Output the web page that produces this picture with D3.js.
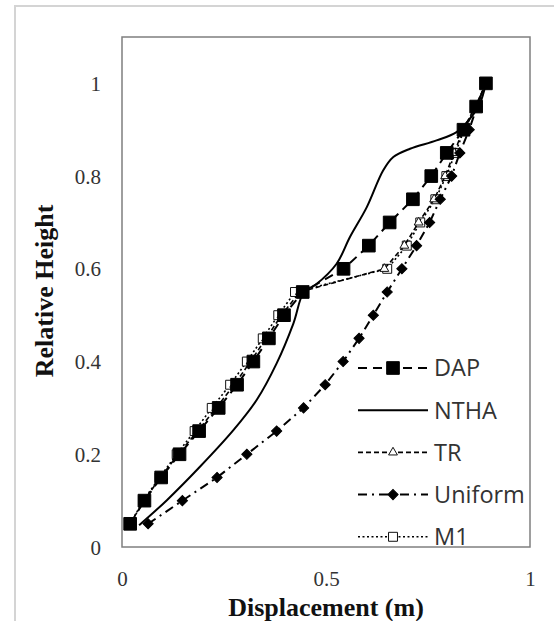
<!DOCTYPE html>
<html>
<head>
<meta charset="utf-8">
<script src="https://cdn.jsdelivr.net/npm/d3@7"></script>
<style>
  html, body { margin: 0; padding: 0; background: #fff; }
  svg { display: block; }
</style>
</head>
<body>
<div id="chart"></div>
<script>
// Relative height levels (shared by the marker series)
const heights = [0.05, 0.1, 0.15, 0.2, 0.25, 0.3, 0.35, 0.4, 0.45, 0.5,
                 0.55, 0.6, 0.65, 0.7, 0.75, 0.8, 0.85, 0.9, 0.95, 1.0];

// Displacement (m) per series
const dapDisp     = [0.020, 0.055, 0.096, 0.141, 0.189, 0.237, 0.282, 0.322, 0.360, 0.397,
                     0.443, 0.543, 0.605, 0.656, 0.713, 0.758, 0.796, 0.837, 0.868, 0.892];
const trDisp      = [0.020, 0.054, 0.094, 0.138, 0.185, 0.231, 0.275, 0.315, 0.353, 0.391,
                     0.436, 0.643, 0.692, 0.727, 0.765, 0.792, 0.814, 0.836, 0.866, 0.892];
const uniformDisp = [0.064, 0.148, 0.233, 0.306, 0.379, 0.445, 0.498, 0.542, 0.581, 0.616,
                     0.650, 0.686, 0.722, 0.754, 0.780, 0.808, 0.828, 0.851, 0.870, 0.892];
const m1Disp      = [0.020, 0.052, 0.092, 0.134, 0.178, 0.220, 0.265, 0.306, 0.345, 0.383,
                     0.424, 0.650, 0.698, 0.731, 0.768, 0.795, 0.817, 0.839, 0.868, 0.892];

// NTHA is a smooth curve without markers
const nthaHeight = [0.047, 0.101, 0.173, 0.252, 0.317, 0.396, 0.482, 0.550, 0.566, 0.611,
                    0.669, 0.733, 0.812, 0.841, 0.859, 0.877, 0.895, 0.924, 0.956, 1.0];
const nthaDisp   = [0.042, 0.110, 0.191, 0.273, 0.330, 0.379, 0.420, 0.446, 0.475, 0.526,
                    0.559, 0.600, 0.640, 0.665, 0.706, 0.771, 0.820, 0.853, 0.877, 0.892];

const xTicks = [0, 0.5, 1];
const yTicks = [0, 0.2, 0.4, 0.6, 0.8, 1];

const width = 554, height = 621;
const plot = { left: 122, right: 530, top: 37, bottom: 547 };

const svg = d3.select('#chart').append('svg')
    .attr('width', width)
    .attr('height', height);

// outer chart frame (only top/left edges fall inside the picture)
svg.append('rect')
    .attr('x', 15).attr('y', 6)
    .attr('width', 700).attr('height', 700)
    .attr('fill', 'none')
    .attr('stroke', '#d4d4d4')
    .attr('stroke-width', 2);

const x = d3.scaleLinear().domain([0, 1]).range([plot.left, plot.right]);
const y = d3.scaleLinear().domain([0, 1.1]).range([plot.bottom, plot.top]);

// axes: labels only, no tick marks
const xAxis = svg.append('g')
    .attr('transform', `translate(0,${plot.bottom})`)
    .call(d3.axisBottom(x).tickValues(xTicks).tickSize(0).tickPadding(0).tickFormat(d3.format('')));
xAxis.select('.domain').remove();
xAxis.selectAll('text')
    .attr('y', 39).attr('dy', 0)
    .style('font-family', '"Liberation Serif", serif')
    .style('font-size', '21px')
    .style('fill', '#333');

const yAxis = svg.append('g')
    .attr('transform', `translate(${plot.left},0)`)
    .call(d3.axisLeft(y).tickValues(yTicks).tickSize(0).tickPadding(0).tickFormat(d3.format('')));
yAxis.select('.domain').remove();
yAxis.selectAll('text')
    .attr('x', -21).attr('dy', '0.34em')
    .style('font-family', '"Liberation Serif", serif')
    .style('font-size', '21px')
    .style('fill', '#333');

// plot area border
svg.append('rect')
    .attr('x', plot.left).attr('y', plot.top)
    .attr('width', plot.right - plot.left)
    .attr('height', plot.bottom - plot.top)
    .attr('fill', 'none')
    .attr('stroke', '#7f7f7f')
    .attr('stroke-width', 1.5);

// axis titles
svg.append('text')
    .attr('x', 326).attr('y', 616)
    .attr('text-anchor', 'middle')
    .style('font-family', '"Liberation Serif", serif')
    .style('font-weight', 'bold')
    .style('font-size', '26px')
    .style('fill', '#111')
    .text('Displacement (m)');

svg.append('text')
    .attr('transform', 'translate(53,291) rotate(-90)')
    .attr('text-anchor', 'middle')
    .style('font-family', '"Liberation Serif", serif')
    .style('font-weight', 'bold')
    .style('font-size', '26px')
    .style('fill', '#111')
    .text('Relative Height');

// series definitions (rot = marker rotation, used for the Excel-style diamond)
const series = [
    { name: 'M1', disp: m1Disp, h: heights, dash: '2,2.5', width: 1.6, curve: d3.curveLinear,
      symbol: d3.symbolSquare, size: 80, rot: 0, fill: '#fff', stroke: '#111' },
    { name: 'TR', disp: trDisp, h: heights, dash: '5,3', width: 1.6, curve: d3.curveLinear,
      symbol: d3.symbolTriangle, size: 34, rot: 0, fill: '#fff', stroke: '#111' },
    { name: 'Uniform', disp: uniformDisp, h: heights, dash: '9,5,2,5', width: 2, curve: d3.curveLinear,
      symbol: d3.symbolSquare, size: 52, rot: 45, fill: '#000', stroke: '#000' },
    { name: 'NTHA', disp: nthaDisp, h: nthaHeight, dash: null, width: 2, curve: d3.curveCatmullRom,
      symbol: null },
    { name: 'DAP', disp: dapDisp, h: heights, dash: '9,6', width: 2, curve: d3.curveLinear,
      symbol: d3.symbolSquare, size: 160, rot: 0, fill: '#000', stroke: '#000' }
];

const line = d3.line()
    .x(d => x(d[0]))
    .y(d => y(d[1]));

series.forEach(s => {
    const pts = s.disp.map((d, i) => [d, s.h[i]]);
    svg.append('path')
        .datum(pts)
        .attr('fill', 'none')
        .attr('stroke', '#000')
        .attr('stroke-width', s.width)
        .attr('stroke-dasharray', s.dash)
        .attr('d', line.curve(s.curve));

    if (s.symbol) {
        svg.append('g').selectAll('path')
            .data(pts)
            .join('path')
            .attr('transform', d => `translate(${x(d[0])},${y(d[1])}) rotate(${s.rot})`)
            .attr('d', d3.symbol(s.symbol, s.size))
            .attr('fill', s.fill)
            .attr('stroke', s.stroke)
            .attr('stroke-width', 1);
    }
});

// legend
const legendOrder = ['DAP', 'NTHA', 'TR', 'Uniform', 'M1'];
const legend = svg.append('g');
legendOrder.forEach((name, i) => {
    const s = series.find(d => d.name === name);
    const ly = 368 + i * 42.2;
    const g = legend.append('g').attr('transform', `translate(0,${ly})`);
    g.append('line')
        .attr('x1', 358).attr('x2', 428)
        .attr('stroke', '#000')
        .attr('stroke-width', s.width)
        .attr('stroke-dasharray', s.dash);
    if (s.symbol) {
        g.append('path')
            .attr('transform', `translate(393,0) rotate(${s.rot})`)
            .attr('d', d3.symbol(s.symbol, s.size))
            .attr('fill', s.fill)
            .attr('stroke', s.stroke)
            .attr('stroke-width', 1);
    }
    g.append('text')
        .attr('x', 434).attr('dy', '0.36em')
        .style('font-family', '"Open Sans", sans-serif')
        .style('font-size', '23.5px')
        .style('fill', '#333')
        .text(name);
});
</script>
</body>
</html>
